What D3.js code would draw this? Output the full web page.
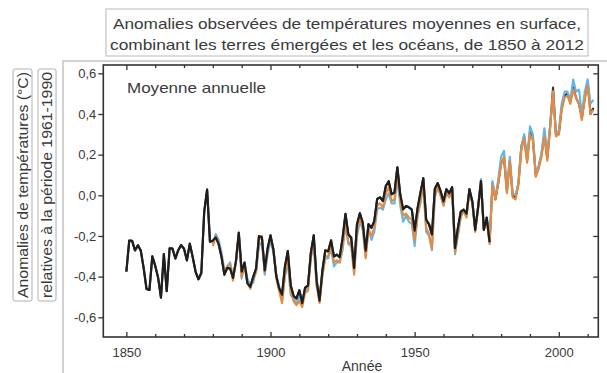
<!DOCTYPE html>
<html>
<head>
<meta charset="utf-8">
<script src="https://cdn.jsdelivr.net/npm/d3@7/dist/d3.min.js"></script>
<style>
  html, body { margin: 0; padding: 0; background: #fff; }
  svg { display: block; font-family: "Liberation Sans", Arial, sans-serif; }
</style>
</head>
<body>
<svg id="chart" width="607" height="373"></svg>
<script>
// HadCRUT4-like series (black), 1850-2012
const blackStart = 1850;
const blackValues = [
  -0.375, -0.223, -0.224, -0.271, -0.246, -0.272, -0.358, -0.461, -0.466, -0.300,
  -0.346, -0.404, -0.503, -0.289, -0.471, -0.261, -0.262, -0.311, -0.270, -0.245,
  -0.263, -0.320, -0.238, -0.303, -0.375, -0.413, -0.382, -0.081, 0.028, -0.228,
  -0.223, -0.207, -0.239, -0.302, -0.390, -0.357, -0.360, -0.406, -0.325, -0.184,
  -0.375, -0.331, -0.433, -0.450, -0.401, -0.360, -0.201, -0.206, -0.369, -0.262,
  -0.197, -0.268, -0.397, -0.457, -0.489, -0.351, -0.274, -0.443, -0.495, -0.508,
  -0.467, -0.530, -0.454, -0.444, -0.282, -0.197, -0.420, -0.518, -0.371, -0.271,
  -0.276, -0.222, -0.301, -0.292, -0.304, -0.212, -0.091, -0.192, -0.209, -0.357,
  -0.142, -0.088, -0.135, -0.272, -0.142, -0.160, -0.127, -0.018, -0.010, -0.028,
  0.046, 0.069, 0.005, 0.013, 0.138, 0.004, -0.069, -0.053, -0.059, -0.070,
  -0.174, -0.065, 0.012, 0.084, -0.120, -0.143, -0.193, 0.032, 0.060, 0.020,
  -0.030, 0.030, 0.010, 0.040, -0.260, -0.160, -0.080, -0.070, -0.090, 0.030,
  -0.030, -0.170, -0.060, 0.070, -0.170, -0.110, -0.230, 0.060, -0.020, 0.060,
  0.160, 0.180, 0.020, 0.170, 0.000, -0.010, 0.060, 0.240, 0.290, 0.170,
  0.310, 0.280, 0.100, 0.140, 0.200, 0.300, 0.180, 0.340, 0.530, 0.300,
  0.300, 0.430, 0.490, 0.500, 0.460, 0.530, 0.480, 0.450, 0.380, 0.480,
  0.560, 0.400, 0.430
];
const blackLastShown = 1976;

// orange series, 1880-2012
const orangeStart = 1880;
const orangeValues = [
  -0.25, -0.20, -0.24, -0.30, -0.38, -0.35, -0.34, -0.42, -0.33, -0.19,
  -0.40, -0.35, -0.43, -0.46, -0.41, -0.38, -0.22, -0.20, -0.38, -0.27,
  -0.21, -0.26, -0.41, -0.47, -0.53, -0.39, -0.30, -0.47, -0.52, -0.54,
  -0.52, -0.55, -0.48, -0.47, -0.31, -0.22, -0.44, -0.53, -0.40, -0.30,
  -0.30, -0.24, -0.33, -0.32, -0.33, -0.25, -0.13, -0.23, -0.24, -0.39,
  -0.18, -0.11, -0.16, -0.31, -0.17, -0.20, -0.16, -0.05, -0.04, -0.06,
  0.01, 0.04, -0.03, -0.02, 0.10, -0.03, -0.10, -0.09, -0.11, -0.12,
  -0.22, -0.10, -0.03, 0.06, -0.16, -0.19, -0.26, 0.00, 0.04, 0.00,
  -0.05, 0.01, -0.01, 0.02, -0.28, -0.19, -0.10, -0.08, -0.11, 0.02,
  -0.04, -0.18, -0.07, 0.07, -0.17, -0.12, -0.24, 0.05, -0.02, 0.06,
  0.15, 0.19, 0.01, 0.17, -0.01, -0.02, 0.05, 0.22, 0.28, 0.16,
  0.30, 0.27, 0.09, 0.13, 0.19, 0.29, 0.17, 0.33, 0.51, 0.29,
  0.30, 0.42, 0.48, 0.49, 0.45, 0.52, 0.48, 0.45, 0.37, 0.47,
  0.54, 0.40, 0.42
];

// blue series, 1880-2012
const blueStart = 1880;
const blueValues = [
  -0.24, -0.19, -0.22, -0.28, -0.37, -0.35, -0.33, -0.40, -0.33, -0.20,
  -0.41, -0.33, -0.41, -0.44, -0.43, -0.37, -0.25, -0.23, -0.39, -0.29,
  -0.22, -0.28, -0.39, -0.45, -0.52, -0.40, -0.33, -0.49, -0.51, -0.53,
  -0.50, -0.52, -0.47, -0.45, -0.30, -0.25, -0.45, -0.50, -0.39, -0.31,
  -0.31, -0.26, -0.35, -0.33, -0.33, -0.27, -0.15, -0.24, -0.25, -0.38,
  -0.20, -0.13, -0.17, -0.30, -0.16, -0.22, -0.18, -0.07, -0.06, -0.07,
  -0.02, 0.01, -0.04, -0.04, 0.08, -0.05, -0.13, -0.10, -0.13, -0.14,
  -0.25, -0.10, -0.04, 0.05, -0.18, -0.20, -0.27, -0.01, 0.04, 0.00,
  -0.05, 0.02, 0.00, 0.03, -0.29, -0.20, -0.11, -0.07, -0.10, 0.02,
  -0.03, -0.16, -0.06, 0.08, -0.16, -0.11, -0.23, 0.07, -0.01, 0.08,
  0.19, 0.22, 0.03, 0.19, 0.01, 0.00, 0.06, 0.24, 0.30, 0.18,
  0.34, 0.30, 0.11, 0.14, 0.21, 0.33, 0.21, 0.34, 0.51, 0.30,
  0.32, 0.45, 0.51, 0.51, 0.47, 0.57, 0.51, 0.52, 0.40, 0.51,
  0.57, 0.45, 0.47
];

const yTicks = [-0.6, -0.4, -0.2, 0.0, 0.2, 0.4, 0.6];
const xMajorTicks = [1850, 1900, 1950, 2000];
const xMinorTicks = [1860, 1870, 1880, 1890, 1910, 1920, 1930, 1940, 1960, 1970, 1980, 1990, 2010];

const titleLines = [
  'Anomalies observées de températures moyennes en surface,',
  'combinant les terres émergées et les océans, de 1850 à 2012'
];
const yLabelLines = ['Anomalies de températures (°C)', 'relatives à la période 1961-1990'];

const svg = d3.select('#chart');

// plot frame bounds
const plotLeft = 103.3, plotRight = 598.3, plotTop = 65, plotBottom = 337;

const x = d3.scaleLinear().domain([1842, 2013.7]).range([plotLeft, plotRight]);
const y = d3.scaleLinear().domain([-0.697, 0.641]).range([plotBottom, plotTop]);

// outer light frame
svg.append('path')
  .attr('d', `M63,373 L63,61 L607,61`)
  .attr('fill', 'none')
  .attr('stroke', '#c4c4c4')
  .attr('stroke-width', 1.5);

// title box
svg.append('rect')
  .attr('x', 106).attr('y', 9).attr('width', 482).attr('height', 47)
  .attr('fill', '#fff').attr('stroke', '#b8b8b8').attr('stroke-width', 1);
titleLines.forEach((t, i) => {
  svg.append('text')
    .attr('x', 347).attr('y', 29 + i * 21)
    .attr('text-anchor', 'middle')
    .attr('font-size', 15)
    .attr('fill', '#3a3a3a')
    .attr('textLength', i === 0 ? 468 : 474)
    .attr('lengthAdjust', 'spacingAndGlyphs')
    .text(t);
});

// y label boxes
const yLabelBoxes = [{ x: 13, w: 19 }, { x: 38, w: 18 }];
yLabelLines.forEach((t, i) => {
  const b = yLabelBoxes[i];
  svg.append('rect')
    .attr('x', b.x).attr('y', 69).attr('width', b.w).attr('height', 232)
    .attr('rx', 2)
    .attr('fill', '#fff').attr('stroke', '#b0b0b0').attr('stroke-width', 1);
  svg.append('text')
    .attr('transform', `translate(${b.x + b.w / 2 + 5},185) rotate(-90)`)
    .attr('text-anchor', 'middle')
    .attr('font-size', 14)
    .attr('fill', '#3a3a3a')
    .attr('textLength', 226)
    .attr('lengthAdjust', 'spacingAndGlyphs')
    .text(t);
});

// plot background
svg.append('rect')
  .attr('x', plotLeft).attr('y', plotTop).attr('width', plotRight - plotLeft).attr('height', plotBottom - plotTop)
  .attr('fill', '#fff');

// lines
const toPoints = (start, vals) => vals.map((v, i) => ({ year: start + i, value: v }));
const line = d3.line().x(d => x(d.year)).y(d => y(d.value)).curve(d3.curveLinear);

const blackPts = toPoints(blackStart, blackValues);
const plot = svg.append('g');

plot.append('path').datum(blackPts)
  .attr('d', line).attr('fill', 'none')
  .attr('stroke', '#333').attr('stroke-width', 2.1).attr('stroke-linejoin', 'round');
plot.append('path').datum(toPoints(blueStart, blueValues))
  .attr('d', line).attr('fill', 'none')
  .attr('stroke', '#62b6e6').attr('stroke-width', 2.1).attr('stroke-linejoin', 'round');
plot.append('path').datum(toPoints(orangeStart, orangeValues))
  .attr('d', line).attr('fill', 'none')
  .attr('stroke', '#e58a40').attr('stroke-width', 2.1).attr('stroke-linejoin', 'round');
plot.append('path').datum(blackPts.filter(d => d.year <= blackLastShown))
  .attr('d', line).attr('fill', 'none')
  .attr('stroke', '#1e1e1e').attr('stroke-width', 2.2).attr('stroke-linejoin', 'round');

// axes
const fmt = d => d.toFixed(1).replace('.', ',');

const yLeft = svg.append('g').attr('transform', `translate(${plotLeft},0)`)
  .call(d3.axisLeft(y).tickValues(yTicks).tickSize(5).tickPadding(2).tickFormat(fmt));
const yRight = svg.append('g').attr('transform', `translate(${plotRight},0)`)
  .call(d3.axisRight(y).tickValues(yTicks).tickSize(-5).tickFormat(''));

const xBottom = svg.append('g').attr('transform', `translate(0,${plotBottom})`)
  .call(d3.axisBottom(x).tickValues(xMajorTicks).tickSize(-5).tickPadding(11).tickFormat(d3.format('d')));
const xBottomMinor = svg.append('g').attr('transform', `translate(0,${plotBottom})`)
  .call(d3.axisBottom(x).tickValues(xMinorTicks).tickSize(-3).tickFormat(''));
const xTop = svg.append('g').attr('transform', `translate(0,${plotTop})`)
  .call(d3.axisTop(x).tickValues(xMajorTicks).tickSize(-5).tickFormat(''));
const xTopMinor = svg.append('g').attr('transform', `translate(0,${plotTop})`)
  .call(d3.axisTop(x).tickValues(xMinorTicks).tickSize(-3).tickFormat(''));

[yLeft, yRight, xBottom, xBottomMinor, xTop, xTopMinor].forEach(g => {
  g.select('.domain').remove();
  g.selectAll('line').attr('stroke', '#333').attr('stroke-width', 1.3);
  g.selectAll('text').attr('font-size', 13).attr('fill', '#3a3a3a')
    .attr('font-family', '"Liberation Sans", Arial, sans-serif');
});

// frame
svg.append('rect')
  .attr('x', plotLeft).attr('y', plotTop).attr('width', plotRight - plotLeft).attr('height', plotBottom - plotTop)
  .attr('fill', 'none').attr('stroke', '#333').attr('stroke-width', 1.6);

// in-plot label
svg.append('text')
  .attr('x', 127).attr('y', 93)
  .attr('font-size', 14.5).attr('fill', '#3a3a3a')
  .attr('textLength', 139).attr('lengthAdjust', 'spacingAndGlyphs')
  .text('Moyenne annuelle');

// x axis title
svg.append('text')
  .attr('x', 362).attr('y', 371)
  .attr('text-anchor', 'middle')
  .attr('font-size', 14).attr('fill', '#3a3a3a')
  .text('Année');
</script>
</body>
</html>
